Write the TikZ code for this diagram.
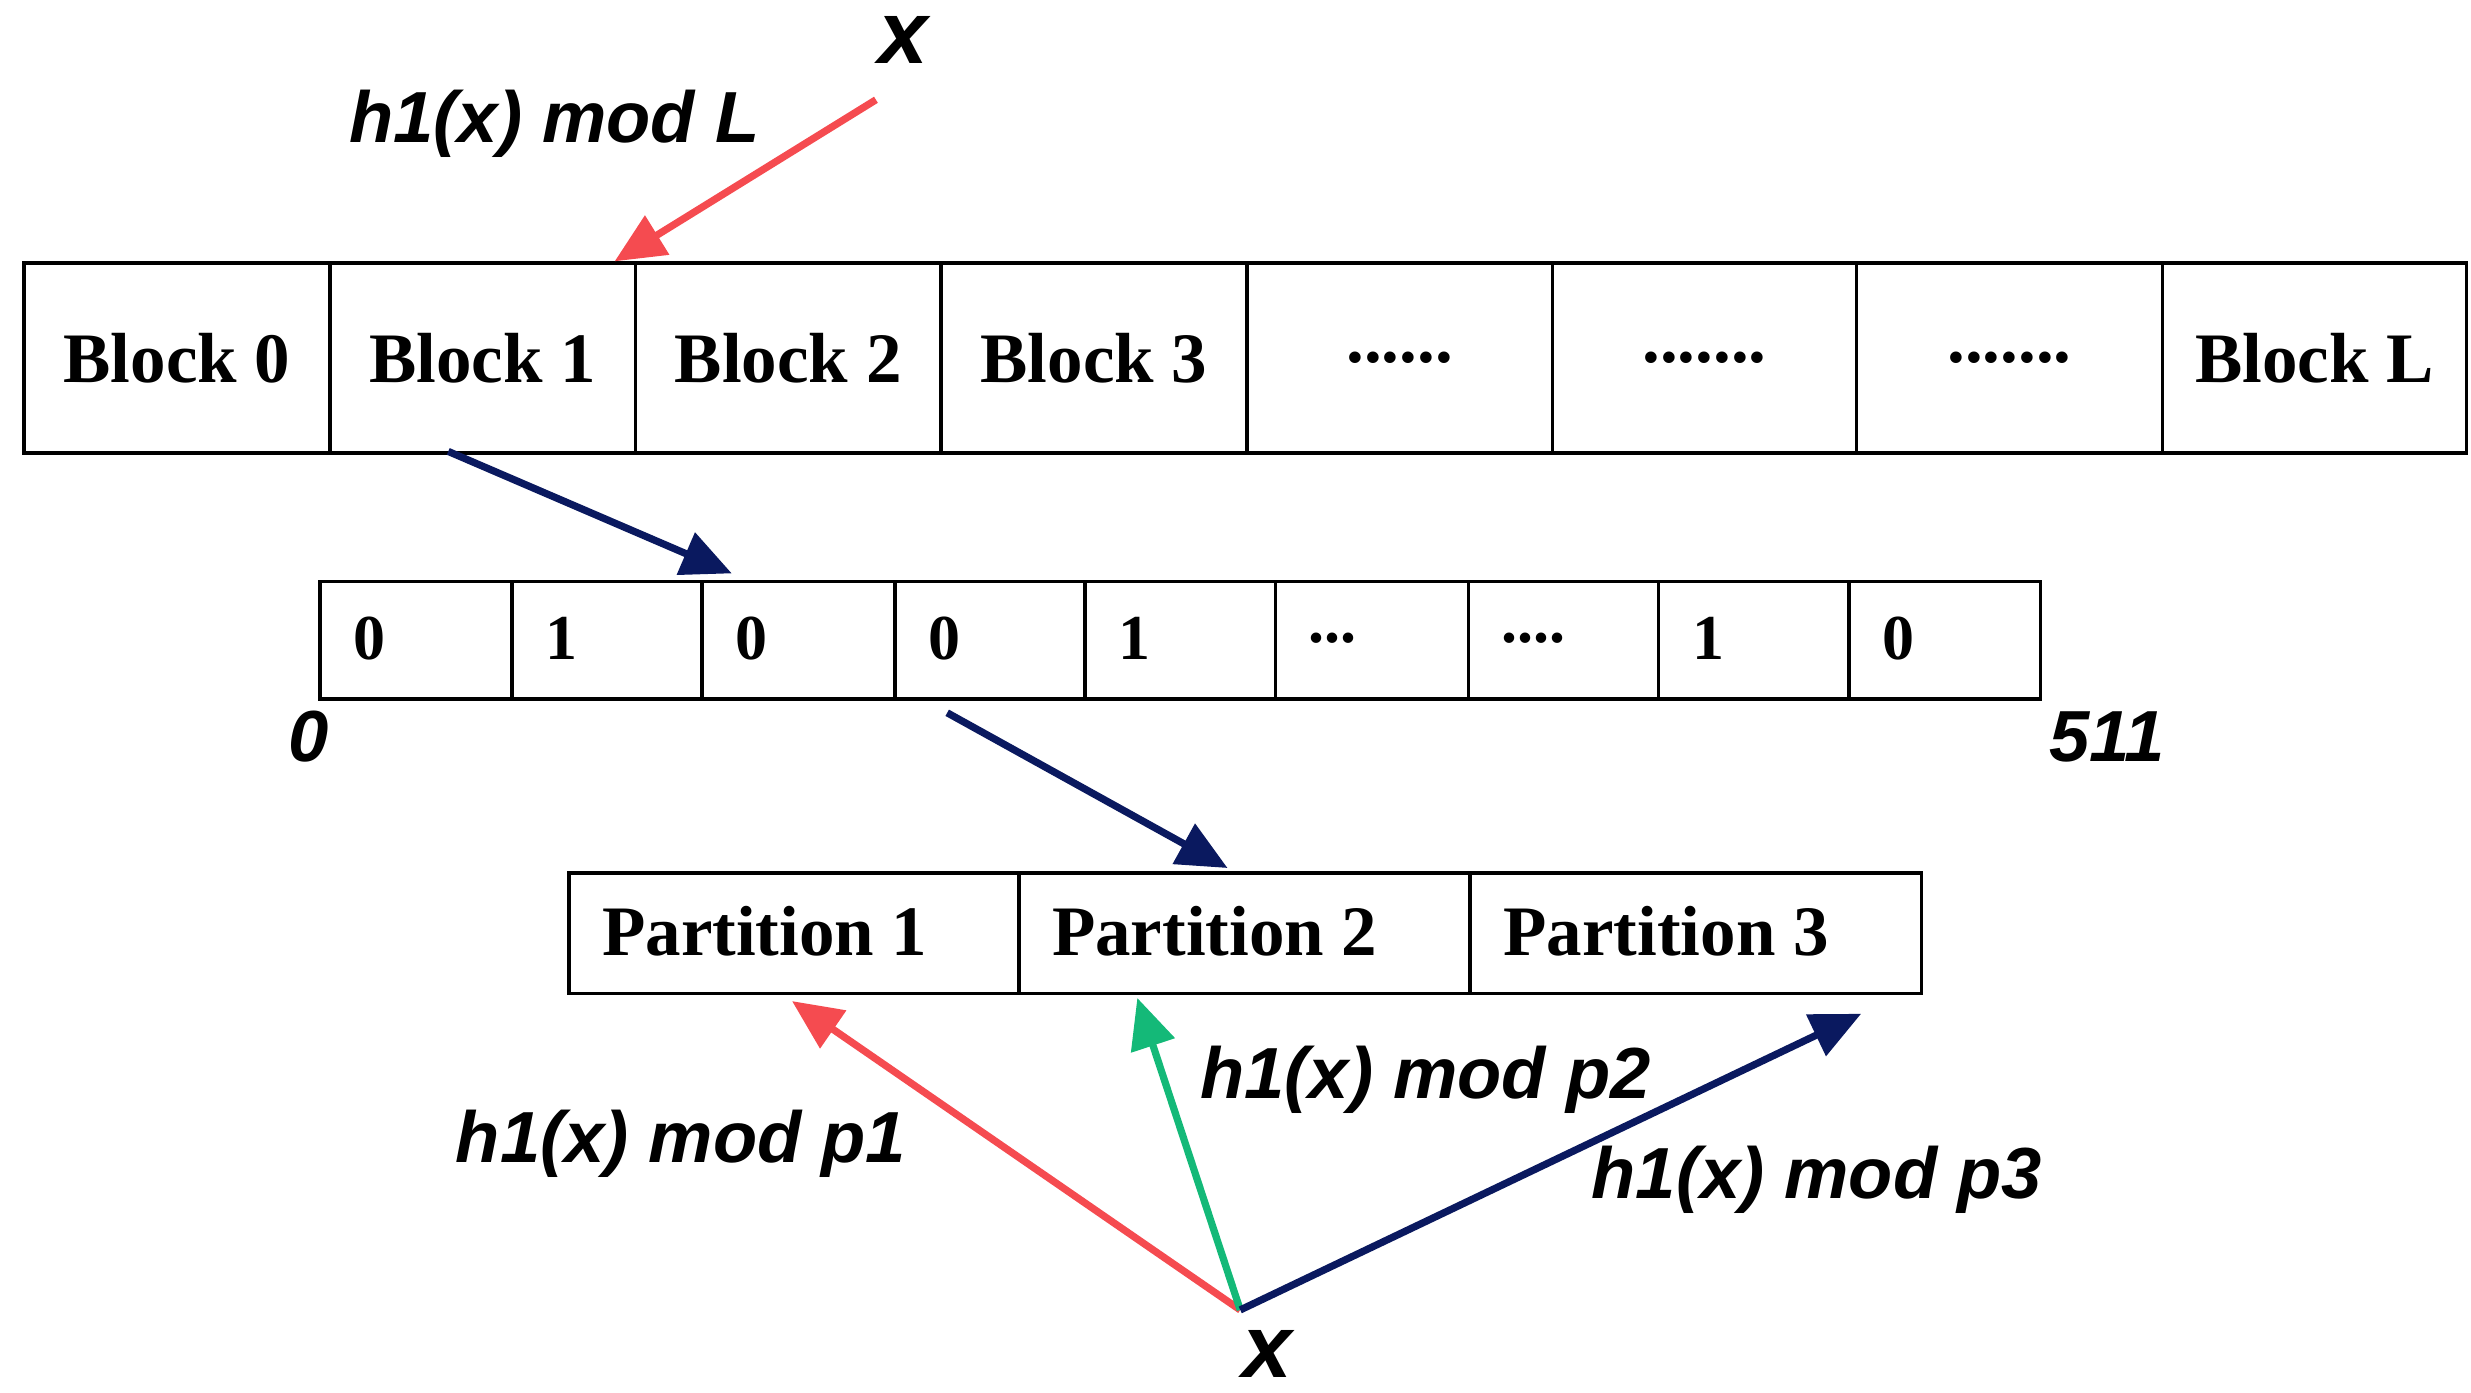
\documentclass[tikz,border=0pt]{standalone}
\usepackage{fontspec}
\setmainfont{Liberation Serif}
\newfontfamily\lsans{Liberation Sans}
\usetikzlibrary{arrows.meta}
\definecolor{navy}{RGB}{10,25,95}
\definecolor{rd}{RGB}{245,75,80}
\definecolor{gr}{RGB}{20,185,120}
\newcommand\dsix{......}
\newcommand\dsev{.......}
\newcommand\dthr{...}
\newcommand\dfour{....}
\begin{document}
\begin{tikzpicture}[x=0.02cm,y=-0.02cm,
  cell/.style={draw,line width=1.3pt,minimum height=#1,inner sep=0pt,anchor=north west},
  bt/.style={font=\fontsize{25.5}{28}\selectfont\bfseries},
  lab/.style={font=\lsans\fontsize{26}{30}\selectfont\bfseries\itshape},
  arr/.style={line width=2.6pt,-{Triangle[length=18pt,width=16pt]}}]
\useasboundingbox (0,0) rectangle (1560,879);
% top row
\foreach \a/\b/\t [count=\i] in {14/207/Block 0,207/400/Block 1,400/593/Block 2,593/786/Block 3,786/979/\dsix,979/1171/\dsev,1171/1364/\dsev,1364/1556/Block L}{
  \node[cell=2.4cm,minimum width=(\b-\a)*0.02cm,bt] (b\i) at (\a,165) {\t};}
% middle row
\foreach \a/\b/\t [count=\i] in {201/322/0,322/442/1,442/564/0,564/684/0,684/804/1,804/926/\dthr,926/1046/\dfour,1046/1166/1,1166/1287/0}{
  \node[cell=1.48cm,minimum width=(\b-\a)*0.02cm] (m\i) at (\a,366) {};
  \node[font=\fontsize{23}{26}\selectfont\bfseries,anchor=west] at (\a+16,403) {\t};}
% partitions
\foreach \a/\b/\t [count=\i] in {358/642/Partition 1,642/927/Partition 2,927/1212/Partition 3}{
  \node[cell=1.52cm,minimum width=(\b-\a)*0.02cm] (p\i) at (\a,550) {};
  \node[bt,anchor=west] at (\a+16,588) {\t};}
\node[lab,font=\lsans\fontsize{32}{34}\selectfont\bfseries\itshape] (x1) at (570,25) {x};
\node[lab] at (350,78) {h1(x) mod L};
\node[lab] at (195,465) {0};
\node[lab] at (1330,465) {511};
\node[lab,font=\lsans\fontsize{32}{34}\selectfont\bfseries\itshape] (x2) at (800,855) {x};
\coordinate (o) at (783,827);
\node[lab] at (430,722) {h1(x) mod p1};
\node[lab] at (900,682) {h1(x) mod p2};
\node[lab] at (1147,745) {h1(x) mod p3};
\coordinate (ra) at (553,63); \coordinate (rb) at (388,165);
\draw[arr,rd] (ra) -- (rb);
\draw[arr,navy] (283,285) -- (462,362);
\draw[arr,navy] (598,450) -- (775,548);
\draw[arr,rd] (o) -- (500,632);
\draw[arr,gr] (o) -- (718,630);
\draw[arr,navy] (o) -- (1175,640);
\end{tikzpicture}
\end{document}
